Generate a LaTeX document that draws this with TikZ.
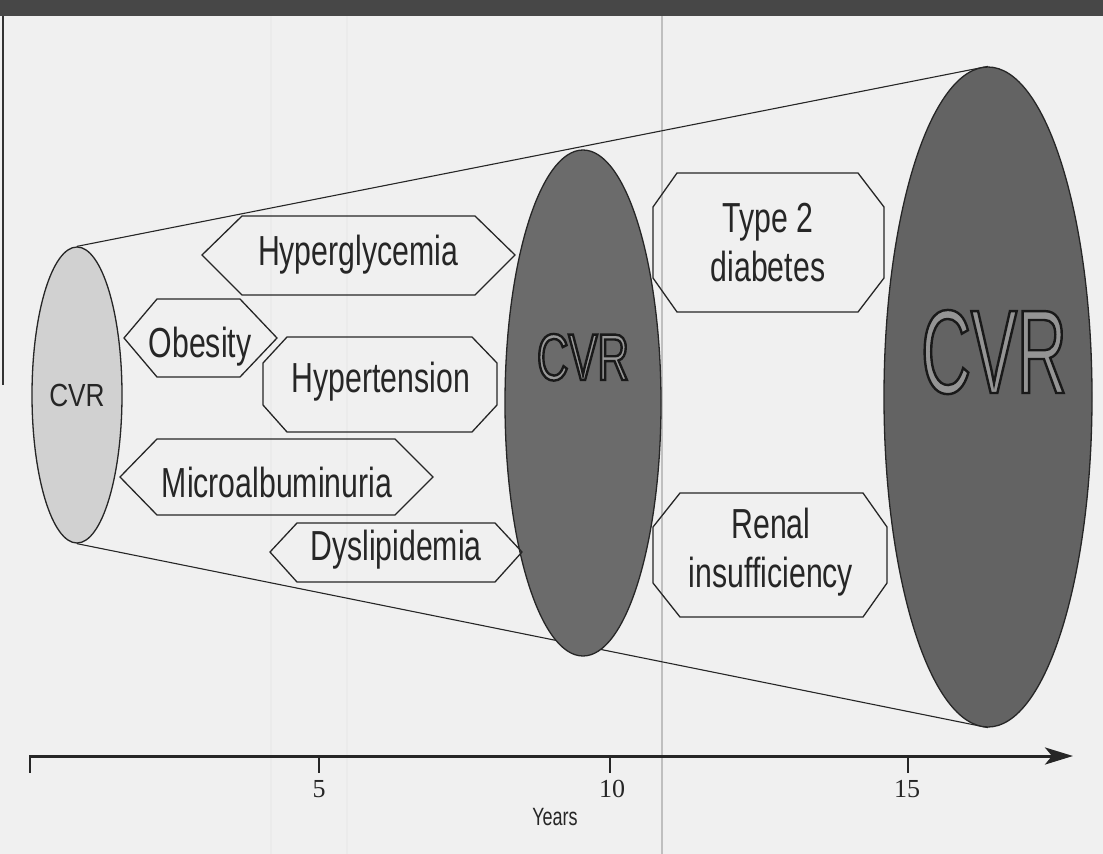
\documentclass[tikz,border=0pt]{standalone}
\usepackage{fontspec}
\usetikzlibrary{shapes.geometric,arrows.meta,backgrounds}
\newfontfamily\condsans[FakeStretch=0.72]{Liberation Sans}
\newfontfamily\cvrsmall[FakeStretch=0.82]{Liberation Sans}
\newfontfamily\cvrmid[FakeStretch=0.66]{Liberation Sans}
\newfontfamily\cvrbig[FakeStretch=0.58]{Liberation Sans}
\newfontfamily\numserif{Liberation Serif}
% hollow looking letters: fill and stroke
\newcommand{\outlined}[1]{\special{pdf:literal direct 2 Tr 2.4 w 0.1 0.1 0.1 RG}#1\special{pdf:literal direct 0 Tr}}

\begin{document}
\begin{tikzpicture}[x=1pt, y=-1pt,
  box/.style={draw=black!85, line width=1.3pt, line join=miter},
  lbl/.style={font=\condsans\fontsize{42}{49}\selectfont, text=black!85, align=center, inner sep=0pt},
  cvr/.style={ellipse, draw=black!85, line width=1.3pt, inner sep=0pt},
  tick/.style={black!85, line width=1.5pt}]
  \useasboundingbox (0,0) rectangle (1103,854);
  % paper, scan band and frame
  \fill[black!72] (0,0) rectangle (1103,16);
  \draw[black!80, line width=1.5pt] (3,16) -- (3,385);
  % risk ellipses
  \node[cvr, fill=black!18, minimum width=90pt, minimum height=296pt,
        font=\cvrsmall\fontsize{32}{32}\selectfont, text=black!85] (cvrA) at (77,395) {CVR};
  \node[cvr, fill=black!58, minimum width=156pt, minimum height=506pt] (cvrB) at (583,403) {};
  \node[cvr, fill=black!61, minimum width=208pt, minimum height=660pt] (cvrC) at (988,397) {};
  \node[anchor=base, inner sep=0pt, font=\cvrmid\fontsize{66}{66}\selectfont, text=black!40] (cvrBlbl) at (583,380)
    {\outlined{CVR}};
  \node[anchor=base, inner sep=0pt, font=\cvrbig\fontsize{119}{119}\selectfont, text=black!42] (cvrClbl) at (994,393)
    {\outlined{CVR}};
  \begin{pgfonlayer}{background}
    \fill[black!6] (0,16) rectangle (1103,854);
    \draw[black!8, line width=1.5pt] (271,16) -- (271,854);
    \draw[black!8, line width=1.5pt] (347,16) -- (347,854);
    \draw[black!25, line width=2.5pt] (662,16) -- (662,854);
    \draw[black!85, line width=1.1pt] (cvrA.north) -- (cvrC.north);
    \draw[black!85, line width=1.1pt] (cvrA.south) -- (cvrC.south);
  \end{pgfonlayer}
  % risk factors
  \draw[box] (202,255) -- (242,216) -- (475,216) -- (515,255) -- (475,295) -- (242,295) -- cycle;
  \node[lbl, anchor=base] (hyperg) at (358,265) {Hyperglycemia};
  \draw[box] (124,338) -- (157,299) -- (240,299) -- (277,338) -- (240,377) -- (157,377) -- cycle;
  \node[lbl, anchor=base] (obes) at (200,357) {Obesity};
  \draw[box] (287,337) -- (472,337) -- (497,363) -- (497,405) -- (472,432) -- (287,432) -- (263,405) -- (263,363) -- cycle;
  \node[lbl, anchor=base] (hypert) at (381,392) {Hypertension};
  \draw[box] (120,477) -- (157,439) -- (395,439) -- (433,477) -- (395,515) -- (157,515) -- cycle;
  \node[lbl, anchor=base] (micro) at (277,497) {Microalbuminuria};
  \draw[box] (270,552) -- (297,523) -- (495,523) -- (522,552) -- (495,582) -- (297,582) -- cycle;
  \node[lbl, anchor=base] (dysl) at (396,560) {Dyslipidemia};
  % outcomes
  \draw[box] (677,173) -- (858,173) -- (884,207) -- (884,278) -- (858,312) -- (677,312) -- (653,278) -- (653,207) -- cycle;
  \node[lbl] (diab) at (768,243) {Type 2\\diabetes};
  \draw[box] (680,493) -- (863,493) -- (887,527) -- (887,583) -- (863,617) -- (680,617) -- (653,583) -- (653,527) -- cycle;
  \node[lbl] (renal) at (771,552) {Renal\\insufficiency};
  % time axis
  \coordinate (ax0) at (30,756);
  \coordinate (ax1) at (1073,756);
  \draw[black!85, line width=3pt, -{Stealth[length=28pt, width=17pt, inset=7pt]}] (ax0) -- (ax1);
  \draw[black!85, line width=2.5pt] (30,755) -- (30,773);
  \draw[tick] (319,756) -- (319,773);
  \draw[tick] (610,756) -- (610,773);
  \draw[tick] (908,756) -- (908,773);
  \node[anchor=base, inner sep=0pt, font=\numserif\fontsize{26}{26}\selectfont, text=black!85] (y5) at (319,797) {5};
  \node[anchor=base, inner sep=0pt, font=\numserif\fontsize{26}{26}\selectfont, text=black!85] (y10) at (612,797) {10};
  \node[anchor=base, inner sep=0pt, font=\numserif\fontsize{26}{26}\selectfont, text=black!85] (y15) at (907,797) {15};
  \node[anchor=base, inner sep=0pt, font=\condsans\fontsize{25}{25}\selectfont, text=black!85] (years) at (555,825) {Years};
\end{tikzpicture}
\end{document}
